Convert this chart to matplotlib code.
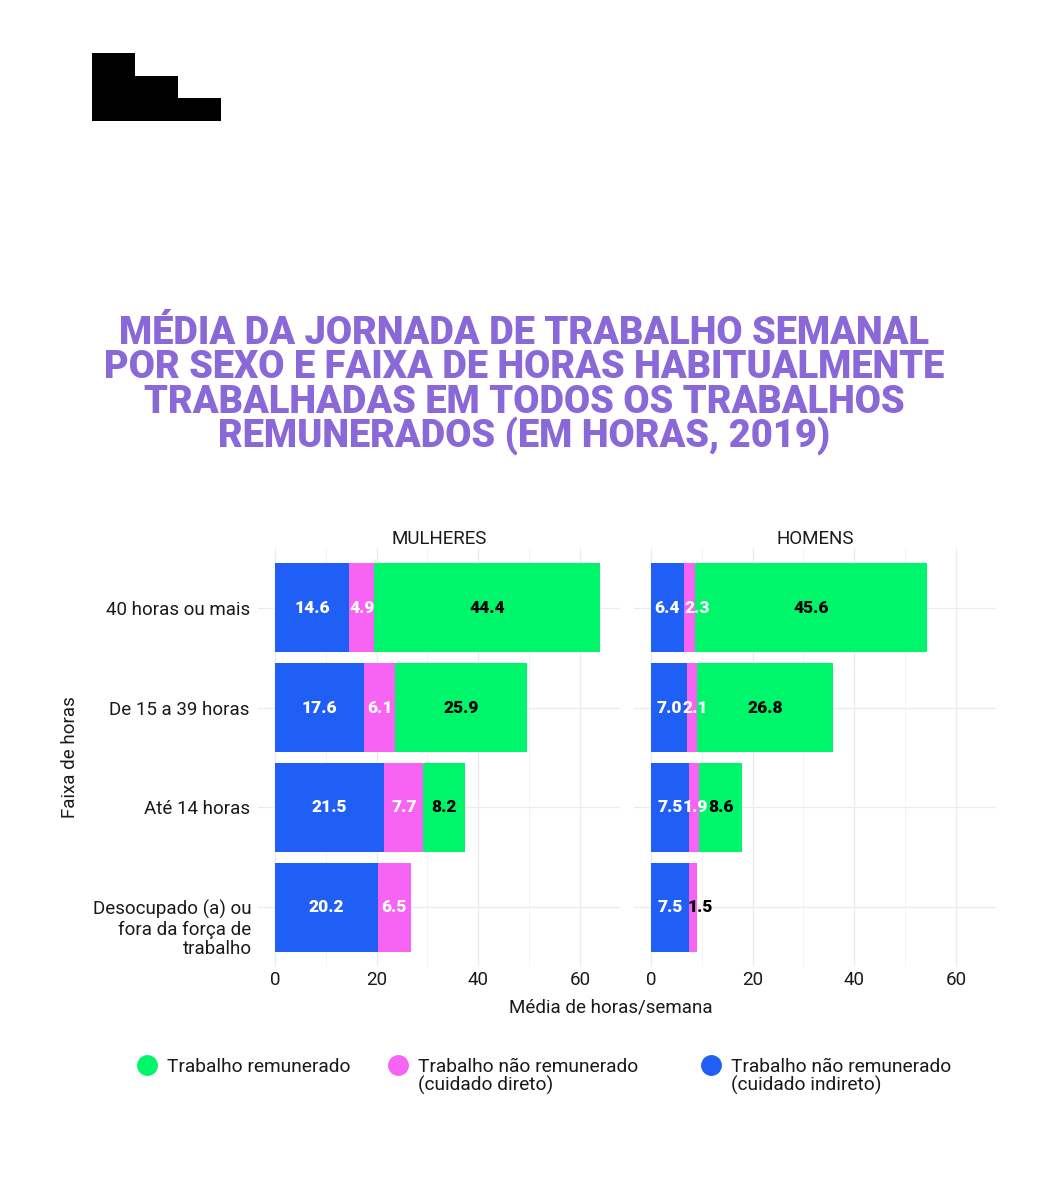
import matplotlib
matplotlib.use('Agg')
import matplotlib.pyplot as plt
import numpy as np
from matplotlib.lines import Line2D
from matplotlib.patches import Polygon

# dados (horas por semana, 2019)
faixas = ['40 horas ou mais', 'De 15 a 39 horas', 'Até 14 horas',
          'Desocupado (a) ou\nfora da força de\ntrabalho']
sexos = ['MULHERES', 'HOMENS']
indireto = {'MULHERES': [14.6, 17.6, 21.5, 20.2], 'HOMENS': [6.4, 7.0, 7.5, 7.5]}
direto = {'MULHERES': [4.9, 6.1, 7.7, 6.5], 'HOMENS': [2.3, 2.1, 1.9, 1.5]}
remunerado = {'MULHERES': [44.4, 25.9, 8.2, 0.0], 'HOMENS': [45.6, 26.8, 8.6, 0.0]}
xticks = [0, 20, 40, 60]
# deslocamento dos rótulos rosa estreitos (para não sobrepor)
ajuste_direto = {'MULHERES': [0, 0, 0, 0], 'HOMENS': [1.5, 0.6, 0.33, 1.45]}

AZUL = '#1f5ff5'
ROSA = '#f763f3'
VERDE = '#00f66a'
ROXO = '#8a68d8'
TXT = '#1a1a1a'

plt.rcParams['font.family'] = ['Roboto', 'DejaVu Sans']

W, H = 1048, 1200
fig = plt.figure(figsize=(W / 100, H / 100), dpi=100)
fig.patch.set_facecolor('white')


def fx(px):
    return px / W


def fy(py):
    return 1 - py / H


# logo em degraus
logo = Polygon([(fx(92), fy(53)), (fx(135), fy(53)), (fx(135), fy(76)),
                (fx(178), fy(76)), (fx(178), fy(98)), (fx(221), fy(98)),
                (fx(221), fy(121)), (fx(92), fy(121))],
               closed=True, transform=fig.transFigure, color='black', lw=0)
fig.add_artist(logo)

# título
titulo = ['MÉDIA DA JORNADA DE TRABALHO SEMANAL',
          'POR SEXO E FAIXA DE HORAS HABITUALMENTE',
          'TRABALHADAS EM TODOS OS TRABALHOS',
          'REMUNERADOS (EM HORAS, 2019)']
for i, linha in enumerate(titulo):
    fig.text(fx(524), fy(333 + i * 34.6), linha, ha='center', va='center',
             fontsize=27.4, fontweight='heavy', color=ROXO)

axes = [fig.add_axes([fx(258), fy(967), fx(362), fy(548) - fy(967)]),
        fig.add_axes([fx(634), fy(967), fx(362), fy(548) - fy(967)])]

y = np.arange(len(faixas))
for ax, sexo in zip(axes, sexos):
    ind = np.array(indireto[sexo])
    dr = np.array(direto[sexo])
    rem = np.array(remunerado[sexo])
    ax.barh(y, ind, height=0.89, color=AZUL, zorder=3)
    ax.barh(y, dr, left=ind, height=0.89, color=ROSA, zorder=3)
    ax.barh(y, rem, left=ind + dr, height=0.89, color=VERDE, zorder=3)
    for i in range(len(faixas)):
        ax.text(ind[i] / 2, y[i], f'{ind[i]:.1f}', ha='center', va='center',
                color='white', fontsize=12.5, fontweight='heavy', zorder=4)
        cor_dr = 'white' if rem[i] > 0 or sexo == 'MULHERES' else 'black'
        ax.text(ind[i] + dr[i] / 2 + ajuste_direto[sexo][i], y[i], f'{dr[i]:.1f}',
                ha='center', va='center', color=cor_dr, fontsize=12.5,
                fontweight='heavy', zorder=4)
        if rem[i] > 0:
            ax.text(ind[i] + dr[i] + rem[i] / 2, y[i], f'{rem[i]:.1f}',
                    ha='center', va='center', color='black', fontsize=12.5,
                    fontweight='heavy', zorder=4)
    ax.set_xlim(-3.35, 67.9)
    ax.set_ylim(3.6, -0.6)
    ax.set_xticks(xticks)
    ax.set_xticks([10, 30, 50], minor=True)
    ax.set_yticks(y)
    ax.grid(True, which='major', color='#ebebeb', lw=0.9, zorder=0)
    ax.grid(True, which='minor', axis='x', color='#f4f4f4', lw=0.7, zorder=0)
    ax.tick_params(length=0, which='both', labelsize=13.5, colors=TXT, pad=3)
    for s in ax.spines.values():
        s.set_visible(False)
    ax.set_title(sexo, fontsize=13.5, color=TXT, pad=3)

# rótulos do eixo y; o de três linhas começa na altura da barra
axes[0].set_yticklabels(faixas[:3] + [''], fontsize=13.5)
axes[0].tick_params(axis='y', pad=6)
axes[0].annotate(faixas[3], xy=(0, y[3]), xycoords=axes[0].get_yaxis_transform(),
                 xytext=(-4.6, 5.0), textcoords='offset points', ha='right',
                 va='top', fontsize=13.5, color=TXT, linespacing=1.1)
axes[1].set_yticklabels([])
axes[0].set_ylabel('Faixa de horas', fontsize=13.5, color=TXT)
axes[0].yaxis.set_label_coords(fx(79 - 258) / fx(362), 0.5)

fig.text(fx(611), fy(1007), 'Média de horas/semana', ha='center', va='center',
         fontsize=13.5, color=TXT)

# legenda
itens = [(147, VERDE, 'Trabalho remunerado'),
         (398, ROSA, 'Trabalho não remunerado\n(cuidado direto)'),
         (711, AZUL, 'Trabalho não remunerado\n(cuidado indireto)')]
for xpx, cor, rot in itens:
    fig.add_artist(Line2D([fx(xpx)], [fy(1065)], marker='o', markersize=14,
                          color=cor, transform=fig.transFigure, lw=0))
    fig.text(fx(xpx + 20), fy(1065 - 7.5), rot, ha='left', va='top',
             fontsize=13.8, color=TXT, linespacing=1.05)

fig.savefig('out.png', dpi=100, facecolor='white')
